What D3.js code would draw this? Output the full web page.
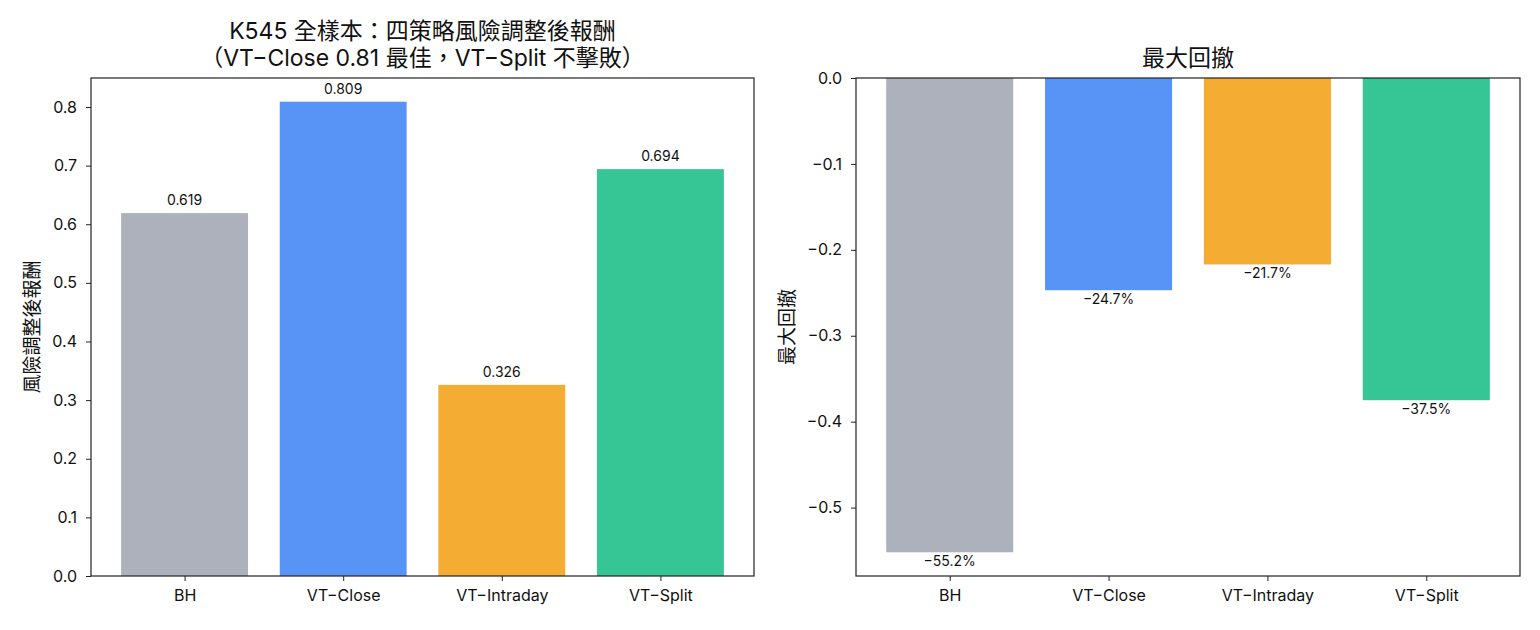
<!DOCTYPE html>
<html>
<head>
<meta charset="utf-8">
<script src="https://cdn.jsdelivr.net/npm/d3@7"></script>
<style>
  body { margin: 0; background: #fff; }
  svg text { font-family: Inter, "Liberation Sans", "Noto Sans CJK TC", sans-serif; fill: #111; }
</style>
</head>
<body>
<div id="chart"></div>
<script>
// Data
const strategies = ['BH', 'VT\u2212Close', 'VT\u2212Intraday', 'VT\u2212Split'];
const sharpeValues = [0.619, 0.809, 0.326, 0.694];
const drawdownValues = [-0.552, -0.247, -0.217, -0.375];
const barColors = ['#adb1bb', '#5894f5', '#f5ac32', '#36c594'];
const sharpeTicks = [0.0, 0.1, 0.2, 0.3, 0.4, 0.5, 0.6, 0.7, 0.8];
const drawdownTicks = [0.0, -0.1, -0.2, -0.3, -0.4, -0.5];

const W = 1540, H = 630;
const minus = (s) => s.replace('-', '\u2212');

const svg = d3.select('#chart')
  .append('svg')
  .attr('width', W)
  .attr('height', H);

function drawPanel(opts) {
  const left = opts.left, right = opts.right, top = 78, bottom = 576;

  // matplotlib-like x range: bars at 0..n-1, width .8, 5% margins
  const n = strategies.length;
  const span = (n - 1) + 0.8;
  const x = d3.scaleLinear()
    .domain([-0.4 - span * 0.05, n - 1 + 0.4 + span * 0.05])
    .range([left, right]);
  const y = d3.scaleLinear().domain(opts.domain).range([bottom, top]);

  const g = svg.append('g');

  // bars
  g.selectAll('rect.bar')
    .data(opts.values)
    .enter()
    .append('rect')
    .attr('class', 'bar')
    .attr('x', (d, i) => x(i - 0.4))
    .attr('width', (d, i) => x(i + 0.4) - x(i - 0.4))
    .attr('y', (d) => y(Math.max(0, d)))
    .attr('height', (d) => Math.abs(y(d) - y(0)))
    .style('fill', (d, i) => barColors[i]);

  // value labels
  g.selectAll('text.val')
    .data(opts.values)
    .enter()
    .append('text')
    .attr('class', 'val')
    .attr('x', (d, i) => x(i))
    .attr('y', (d) => d >= 0 ? y(d) - 8 : y(d) + 14)
    .attr('text-anchor', 'middle')
    .attr('font-size', 14)
    .text(opts.label);

  // y axis
  const yAxis = d3.axisLeft(y)
    .tickValues(opts.ticks)
    .tickSize(5)
    .tickPadding(9)
    .tickFormat((d) => minus(d3.format('.1f')(d)));
  const ya = g.append('g')
    .attr('transform', `translate(${left},0)`)
    .call(yAxis);
  ya.select('.domain').remove();
  ya.selectAll('line').attr('stroke', '#222').attr('stroke-width', 1);
  ya.selectAll('text').attr('font-size', 16).style('fill', '#111');

  // x axis
  const xAxis = d3.axisBottom(x)
    .tickValues(d3.range(n))
    .tickSize(5)
    .tickPadding(9)
    .tickFormat((d) => strategies[d]);
  const xa = g.append('g')
    .attr('transform', `translate(0,${bottom})`)
    .call(xAxis);
  xa.select('.domain').remove();
  xa.selectAll('line').attr('stroke', '#222').attr('stroke-width', 1);
  xa.selectAll('text').attr('font-size', 16).style('fill', '#111');

  // frame
  g.append('rect')
    .attr('x', left)
    .attr('y', top)
    .attr('width', right - left)
    .attr('height', bottom - top)
    .style('fill', 'none')
    .style('stroke', '#222')
    .style('stroke-width', 1.2);

  // y label
  g.append('text')
    .attr('transform', `translate(${opts.ylabelX},${(top + bottom) / 2}) rotate(-90)`)
    .attr('text-anchor', 'middle')
    .attr('font-size', 19)
    .text(opts.ylabel);

  // title
  opts.title.forEach((t, i) => {
    g.append('text')
      .attr('x', (left + right) / 2)
      .attr('y', 66 - (opts.title.length - 1 - i) * 27)
      .attr('text-anchor', 'middle')
      .attr('font-size', 23)
      .text(t);
  });
}

drawPanel({
  left: 91,
  right: 754,
  values: sharpeValues,
  domain: [0, d3.max(sharpeValues) * 1.05],
  ticks: sharpeTicks,
  label: (d) => d3.format('.3f')(d),
  ylabel: '風險調整後報酬',
  ylabelX: 39,
  title: ['K545 全樣本：四策略風險調整後報酬', '（VT\u2212Close 0.81 最佳，VT\u2212Split 不擊敗）'],
});

drawPanel({
  left: 856,
  right: 1520,
  values: drawdownValues,
  domain: [d3.min(drawdownValues) * 1.05, 0],
  ticks: drawdownTicks,
  label: (d) => minus(d3.format('.1%')(d)),
  ylabel: '最大回撤',
  ylabelX: 794,
  title: ['最大回撤'],
});
</script>
</body>
</html>
